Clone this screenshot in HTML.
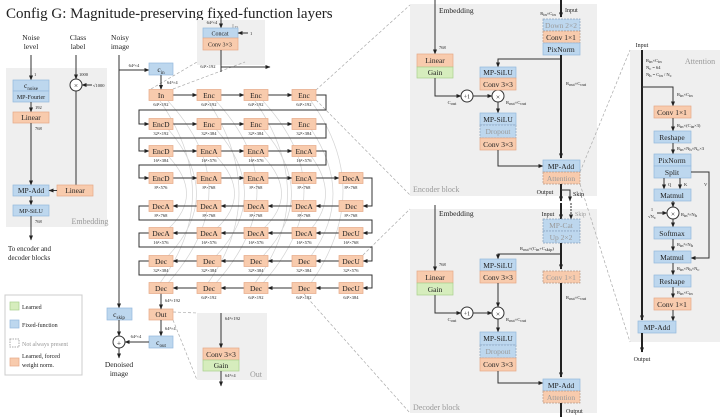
<!DOCTYPE html>
<html><head><meta charset="utf-8"><style>
body{margin:0;background:#fff}
svg{display:block}
text{font-family:"Liberation Serif",serif;fill:#222;text-anchor:middle}
.t{font-size:7.5px}
.s{font-size:4.5px}
.m{font-size:6px}
.l{text-anchor:start}
.gr{fill:#999}
.o{fill:#f8cbad;stroke:#e5a987;stroke-width:.7}
.b{fill:#bdd7ee;stroke:#94b9dd;stroke-width:.7}
.g{fill:#d6edbd;stroke:#a9d08e;stroke-width:.7}
.od{fill:#f8cbad;stroke:#b89a88;stroke-width:.7;stroke-dasharray:2 1}
.bd{fill:#bdd7ee;stroke:#8aa3bd;stroke-width:.7;stroke-dasharray:2 1}
.p{fill:#efefef}
.ln{fill:none;stroke:#333;stroke-width:1}
.th{fill:none;stroke:#222;stroke-width:2}
.dz{fill:none;stroke:#aaa;stroke-width:.7;stroke-dasharray:3 2}
.sk{fill:none;stroke:#d4d4d4;stroke-width:.7}
</style></head><body>
<svg width="720" height="417" viewBox="0 0 720 417" xmlns="http://www.w3.org/2000/svg">
<defs><marker id="a" markerWidth="5" markerHeight="5" refX="4.5" refY="2.5" orient="auto" markerUnits="userSpaceOnUse"><path d="M0,0.5 L5,2.5 L0,4.5z" fill="#222"/></marker></defs>

<text x="6" y="18" class="l" style="font-size:15px">Config G: Magnitude-preserving fixed-function layers</text>

<!-- panels -->
<rect x="6" y="68" width="101" height="159" class="p"/>
<rect x="197" y="20" width="68" height="45" class="p"/>
<rect x="197" y="313" width="70" height="67" class="p"/>
<rect x="410" y="4" width="187" height="192" class="p"/>
<rect x="410" y="209" width="187" height="204" class="p"/>
<rect x="630" y="50" width="90" height="292" class="p"/>

<!-- dashed zoom lines -->
<path class="dz" d="M151,89 L197,62 M173,89 L245,62 M316,90 L410,5 M316,100 L410,195 M363,255 L410,209 M304,294 L410,413 M580,172 L630,50 M580,184 L630,342 M173,312 L197,313 M173,320 L197,380"/>

<!-- skip arcs -->
<path class="sk" d="M168,101 Q250,190 168,283 M216,101 Q298,190 216,283 M263,101 Q345,190 263,283 M311,101 Q375,190 311,283 M168,129 Q225,195 168,256 M216,129 Q273,195 216,256 M263,129 Q320,195 263,256 M311,129 Q355,195 311,256 M168,156 Q205,195 168,229 M216,156 Q253,195 216,229 M263,156 Q300,195 263,229 M311,156 Q340,195 311,229 M160,101 Q225,195 160,283 M208,101 Q270,195 208,283 M255,101 Q320,195 255,283"/>

<!-- Embedding panel -->
<text x="31" y="40" class="t">Noise</text><text x="31" y="49" class="t">level</text>
<text x="78" y="40" class="t">Class</text><text x="78" y="49" class="t">label</text>
<text x="120" y="40" class="t">Noisy</text><text x="120" y="49" class="t">image</text>
<path class="ln" d="M31,55 V80" marker-end="url(#a)"/>
<text x="34" y="76" class="s l">1</text>
<rect x="13" y="80" width="36" height="11" class="b"/><text x="31" y="88" class="t">c<tspan font-size="5" dy="2">noise</tspan></text>
<rect x="13" y="91" width="36" height="11" class="b"/><text x="31" y="99" class="m">MP-Fourier</text>
<path class="ln" d="M31,102 V112" marker-end="url(#a)"/><text x="35" y="109" class="s l">192</text>
<rect x="13" y="112" width="36" height="11" class="o"/><text x="31" y="120" class="t">Linear</text>
<path class="ln" d="M31,123 V185" marker-end="url(#a)"/><text x="35" y="130" class="s l">768</text>
<rect x="13" y="185" width="36" height="11" class="b"/><text x="31" y="193" class="t">MP-Add</text>
<path class="ln" d="M31,196 V205" marker-end="url(#a)"/>
<rect x="13" y="205" width="36" height="11" class="b"/><text x="31" y="213" class="m">MP-SiLU</text>
<path class="ln" d="M31,216 V240" marker-end="url(#a)"/><text x="35" y="223" class="s l">768</text>
<text x="90" y="224" class="gr" style="font-size:8px">Embedding</text>
<path class="ln" d="M76,55 V79" marker-end="url(#a)"/><text x="79" y="76" class="s l">1000</text>
<circle cx="76" cy="85" r="6" fill="#fff" stroke="#333"/><text x="76" y="88" class="t">×</text>
<path class="ln" d="M92,85 H82" marker-end="url(#a)"/><text x="93" y="87" class="s l">√1000</text>
<path class="ln" d="M76,91 V185"/>
<rect x="57" y="185" width="36" height="11" class="o"/><text x="75" y="193" class="t">Linear</text>
<path class="ln" d="M57,190.5 H49" marker-end="url(#a)"/>
<text x="8" y="251" class="l" style="font-size:7px">To encoder and</text>
<text x="8" y="260" class="l" style="font-size:7px">decoder blocks</text>

<!-- Legend -->
<rect x="5" y="295" width="77" height="80" fill="#fff" stroke="#ccc"/>
<rect x="10" y="302" width="9" height="8" class="g"/><text x="22" y="309" class="m l">Learned</text>
<rect x="10" y="320" width="9" height="8" class="b"/><text x="22" y="327" class="m l">Fixed-function</text>
<rect x="10" y="339" width="9" height="8" fill="#fff" stroke="#aaa" stroke-dasharray="1.5 1"/><text x="22" y="346" class="m l gr">Not always present</text>
<rect x="10" y="358" width="9" height="8" class="o"/><text x="22" y="358" class="m l">Learned, forced</text><text x="22" y="367" class="m l">weight norm.</text>

<!-- noisy image / c_in / skip -->
<path class="ln" d="M119,55 V308" marker-end="url(#a)"/>
<path class="ln" d="M119,70 H149" marker-end="url(#a)"/><text x="134" y="67" class="s">64²×4</text>
<rect x="149" y="63" width="24" height="12" class="b"/><text x="161" y="72" class="t">c<tspan font-size="5" dy="2">in</tspan></text>
<path class="ln" d="M161,75 V89.5" marker-end="url(#a)"/><text x="167" y="84" class="s l">64²×4</text>
<rect x="107" y="308" width="25" height="12" class="b"/><text x="119" y="317" class="t">c<tspan font-size="5" dy="2">skip</tspan></text>
<path class="ln" d="M119,320 V336" marker-end="url(#a)"/>
<circle cx="119" cy="342" r="6" fill="#fff" stroke="#333"/><text x="119" y="345.5" class="t">+</text>
<path class="ln" d="M119,348 V358" marker-end="url(#a)"/>
<text x="119" y="367" class="t">Denoised</text><text x="119" y="376" class="t">image</text>
<rect x="149" y="309" width="24" height="11" class="o"/><text x="161" y="317" class="t">Out</text>
<path class="ln" d="M161,293.5 V309" marker-end="url(#a)"/><text x="165" y="302" class="s l">64²×192</text>
<path class="ln" d="M161,320 V336" marker-end="url(#a)"/><text x="165" y="330" class="s l">64²×4</text>
<rect x="149" y="336" width="24" height="12" class="b"/><text x="161" y="345" class="t">c<tspan font-size="5" dy="2">out</tspan></text>
<path class="ln" d="M149,342 H125" marker-end="url(#a)"/><text x="136" y="338" class="s">64²×4</text>

<!-- In panel -->
<text x="235" y="30" class="gr" style="font-size:8px">In</text>
<path class="ln" d="M221,14 V28" marker-end="url(#a)"/><text x="212" y="24" class="s">64²×4</text>
<rect x="203" y="28" width="35" height="10" class="b"/><text x="220" y="35.5" class="m">Concat</text>
<path class="ln" d="M248,33 H238" marker-end="url(#a)"/><text x="250" y="35" class="s l">1</text>
<rect x="203" y="38" width="35" height="12" class="o"/><text x="220" y="46.5" class="m">Conv 3×3</text>
<path class="ln" d="M221,50 V72"/><path class="ln" d="M221,67 H270" marker-end="url(#a)"/><text x="208" y="68" class="s">64²×192</text>

<!-- Out panel -->
<text x="256" y="377" class="gr" style="font-size:8px">Out</text>
<path class="ln" d="M221,313 V348" marker-end="url(#a)"/><text x="225" y="320" class="s l">64²×192</text>
<rect x="203" y="348" width="36" height="12" class="o"/><text x="221" y="357" class="t">Conv 3×3</text>
<rect x="203" y="360" width="36" height="11" class="g"/><text x="221" y="368" class="t">Gain</text>
<path class="ln" d="M221,371 V386" marker-end="url(#a)"/><text x="225" y="377" class="s l">64²×4</text>

<!-- grid connectors -->
<g class="ln" marker-end="url(#a)">
<path d="M173,95 H197"/><path d="M221,95 H244"/><path d="M268,95 H292"/>
<path d="M173,124 H197"/><path d="M221,124 H244"/><path d="M268,124 H292"/>
<path d="M173,151 H197"/><path d="M221,151 H244"/><path d="M268,151 H292"/>
<path d="M173,178 H197"/><path d="M221,178 H244"/><path d="M268,178 H292"/><path d="M316,178 H339"/>
<path d="M339,206 H316"/><path d="M292,206 H268"/><path d="M244,206 H221"/><path d="M197,206 H173"/>
<path d="M339,233 H316"/><path d="M292,233 H268"/><path d="M244,233 H221"/><path d="M197,233 H173"/>
<path d="M339,261 H316"/><path d="M292,261 H268"/><path d="M244,261 H221"/><path d="M197,261 H173"/>
<path d="M339,288 H316"/><path d="M292,288 H268"/><path d="M244,288 H221"/><path d="M197,288 H173"/>
<path d="M316,95 H326 V110 H139 V124 H149"/>
<path d="M316,124 H326 V138 H139 V151 H149"/>
<path d="M316,151 H326 V165 H139 V178 H149"/>
<path d="M363,178 H372 V206 H363"/>
<path d="M149,206 H139 V220 H372 V233 H363"/>
<path d="M149,233 H139 V247 H372 V261 H363"/>
<path d="M149,261 H139 V275 H372 V288 H363"/>
</g>

<!-- grid boxes -->
<g>
<rect x="149" y="89.5" width="24" height="11" class="o"/><text x="161" y="98" class="t">In</text><text x="161" y="106" class="s">64²×192</text>
<rect x="197" y="89.5" width="24" height="11" class="o"/><text x="209" y="98" class="t">Enc</text><text x="209" y="106" class="s">64²×192</text>
<rect x="244" y="89.5" width="24" height="11" class="o"/><text x="256" y="98" class="t">Enc</text><text x="256" y="106" class="s">64²×192</text>
<rect x="292" y="89.5" width="24" height="11" class="o"/><text x="304" y="98" class="t">Enc</text><text x="304" y="106" class="s">64²×192</text>

<rect x="149" y="118.5" width="24" height="11" class="o"/><text x="161" y="127" class="t">EncD</text><text x="161" y="135" class="s">32²×192</text>
<rect x="197" y="118.5" width="24" height="11" class="o"/><text x="209" y="127" class="t">Enc</text><text x="209" y="135" class="s">32²×384</text>
<rect x="244" y="118.5" width="24" height="11" class="o"/><text x="256" y="127" class="t">Enc</text><text x="256" y="135" class="s">32²×384</text>
<rect x="292" y="118.5" width="24" height="11" class="o"/><text x="304" y="127" class="t">Enc</text><text x="304" y="135" class="s">32²×384</text>

<rect x="149" y="145.5" width="24" height="11" class="o"/><text x="161" y="154" class="t">EncD</text><text x="161" y="162" class="s">16²×384</text>
<rect x="197" y="145.5" width="24" height="11" class="o"/><text x="209" y="154" class="t">EncA</text><text x="209" y="162" class="s">16²×576</text>
<rect x="244" y="145.5" width="24" height="11" class="o"/><text x="256" y="154" class="t">EncA</text><text x="256" y="162" class="s">16²×576</text>
<rect x="292" y="145.5" width="24" height="11" class="o"/><text x="304" y="154" class="t">EncA</text><text x="304" y="162" class="s">16²×576</text>

<rect x="149" y="172.5" width="24" height="11" class="o"/><text x="161" y="181" class="t">EncD</text><text x="161" y="189" class="s">8²×576</text>
<rect x="197" y="172.5" width="24" height="11" class="o"/><text x="209" y="181" class="t">EncA</text><text x="209" y="189" class="s">8²×768</text>
<rect x="244" y="172.5" width="24" height="11" class="o"/><text x="256" y="181" class="t">EncA</text><text x="256" y="189" class="s">8²×768</text>
<rect x="292" y="172.5" width="24" height="11" class="o"/><text x="304" y="181" class="t">EncA</text><text x="304" y="189" class="s">8²×768</text>
<rect x="339" y="172.5" width="24" height="11" class="o"/><text x="351" y="181" class="t">DecA</text><text x="351" y="189" class="s">8²×768</text>

<rect x="149" y="200.5" width="24" height="11" class="o"/><text x="161" y="209" class="t">DecA</text><text x="161" y="217" class="s">8²×768</text>
<rect x="197" y="200.5" width="24" height="11" class="o"/><text x="209" y="209" class="t">DecA</text><text x="209" y="217" class="s">8²×768</text>
<rect x="244" y="200.5" width="24" height="11" class="o"/><text x="256" y="209" class="t">DecA</text><text x="256" y="217" class="s">8²×768</text>
<rect x="292" y="200.5" width="24" height="11" class="o"/><text x="304" y="209" class="t">DecA</text><text x="304" y="217" class="s">8²×768</text>
<rect x="339" y="200.5" width="24" height="11" class="o"/><text x="351" y="209" class="t">Dec</text><text x="351" y="217" class="s">8²×768</text>

<rect x="149" y="227.5" width="24" height="11" class="o"/><text x="161" y="236" class="t">DecA</text><text x="161" y="244" class="s">16²×576</text>
<rect x="197" y="227.5" width="24" height="11" class="o"/><text x="209" y="236" class="t">DecA</text><text x="209" y="244" class="s">16²×576</text>
<rect x="244" y="227.5" width="24" height="11" class="o"/><text x="256" y="236" class="t">DecA</text><text x="256" y="244" class="s">16²×576</text>
<rect x="292" y="227.5" width="24" height="11" class="o"/><text x="304" y="236" class="t">DecA</text><text x="304" y="244" class="s">16²×576</text>
<rect x="339" y="227.5" width="24" height="11" class="o"/><text x="351" y="236" class="t">DecU</text><text x="351" y="244" class="s">16²×768</text>

<rect x="149" y="255.5" width="24" height="11" class="o"/><text x="161" y="264" class="t">Dec</text><text x="161" y="272" class="s">32²×384</text>
<rect x="197" y="255.5" width="24" height="11" class="o"/><text x="209" y="264" class="t">Dec</text><text x="209" y="272" class="s">32²×384</text>
<rect x="244" y="255.5" width="24" height="11" class="o"/><text x="256" y="264" class="t">Dec</text><text x="256" y="272" class="s">32²×384</text>
<rect x="292" y="255.5" width="24" height="11" class="o"/><text x="304" y="264" class="t">Dec</text><text x="304" y="272" class="s">32²×384</text>
<rect x="339" y="255.5" width="24" height="11" class="o"/><text x="351" y="264" class="t">DecU</text><text x="351" y="272" class="s">32²×576</text>

<rect x="149" y="282.5" width="24" height="11" class="o"/><text x="161" y="291" class="t">Dec</text>
<rect x="197" y="282.5" width="24" height="11" class="o"/><text x="209" y="291" class="t">Dec</text><text x="209" y="299" class="s">64²×192</text>
<rect x="244" y="282.5" width="24" height="11" class="o"/><text x="256" y="291" class="t">Dec</text><text x="256" y="299" class="s">64²×192</text>
<rect x="292" y="282.5" width="24" height="11" class="o"/><text x="304" y="291" class="t">Dec</text><text x="304" y="299" class="s">64²×192</text>
<rect x="339" y="282.5" width="24" height="11" class="o"/><text x="351" y="291" class="t">DecU</text><text x="351" y="299" class="s">64²×384</text>
</g>

<!-- Encoder block -->
<text x="413" y="192" class="l gr" style="font-size:8px">Encoder block</text>
<path class="ln" d="M435,0 V54" marker-end="url(#a)"/><text x="439" y="13" class="t l">Embedding</text><text x="439" y="49" class="s l">768</text>
<rect x="417" y="54" width="36" height="13" class="o"/><text x="435" y="63" class="t">Linear</text>
<rect x="417" y="67" width="36" height="11" class="g"/><text x="435" y="75" class="t">Gain</text>
<path class="ln" d="M435,78 V96 H461" marker-end="url(#a)"/><text x="452" y="104" class="s">C<tspan dy="1">out</tspan></text>
<circle cx="467" cy="96" r="6" fill="#fff" stroke="#333"/><text x="467" y="98.5" class="m">+1</text>
<path class="ln" d="M473,96 H492" marker-end="url(#a)"/>
<circle cx="498" cy="96" r="6" fill="#fff" stroke="#333"/><text x="498" y="99.5" class="t">×</text>
<text x="506" y="104" class="s l">R<tspan dy="1">out</tspan><tspan dy="-1">×C</tspan><tspan dy="1">out</tspan></text>
<path class="ln" d="M561,59 H498 V67" marker-end="url(#a)"/>
<rect x="480" y="67" width="36" height="11" class="b"/><text x="498" y="75" class="t">MP-SiLU</text>
<rect x="480" y="78" width="36" height="12" class="o"/><text x="498" y="87" class="t">Conv 3×3</text>
<path class="ln" d="M498,90 V90"/>
<path class="ln" d="M498,102 V113" marker-end="url(#a)"/>
<rect x="480" y="113" width="36" height="12" class="b"/><text x="498" y="122" class="t">MP-SiLU</text>
<rect x="480" y="125" width="36" height="13" class="bd"/><text x="498" y="134" class="t gr">Dropout</text>
<rect x="480" y="138" width="36" height="12" class="o"/><text x="498" y="147" class="t">Conv 3×3</text>
<path class="ln" d="M498,150 V166 H543" marker-end="url(#a)"/>
<path class="th" d="M561,0 V17" marker-end="url(#a)"/><text x="565" y="12" class="m l">Input</text><text x="548" y="15" class="s">R<tspan dy="1">in</tspan><tspan dy="-1">×C</tspan><tspan dy="1">in</tspan></text>
<rect x="543" y="19" width="37" height="12" class="bd"/><text x="561" y="28" class="t gr">Down 2×2</text>
<rect x="543" y="31" width="37" height="12" class="od"/><text x="561" y="40" class="t">Conv 1×1</text>
<rect x="543" y="43" width="37" height="12" class="b"/><text x="561" y="52" class="t">PixNorm</text>
<path class="th" d="M561,55 V158" marker-end="url(#a)"/><text x="566" y="85" class="s l">R<tspan dy="1">out</tspan><tspan dy="-1">×C</tspan><tspan dy="1">out</tspan></text>
<rect x="543" y="160" width="37" height="12" class="b"/><text x="561" y="169" class="t">MP-Add</text>
<rect x="543" y="172" width="37" height="12" class="od"/><text x="561" y="181" class="t gr">Attention</text>
<path class="th" d="M561,184 V201" marker-end="url(#a)"/><text x="545" y="194" class="m">Output</text>
<path class="ln" d="M561,190 H570 V201" marker-end="url(#a)"/><text x="573" y="196" class="m l">Skip</text>

<!-- Decoder block -->
<text x="413" y="410" class="l gr" style="font-size:8px">Decoder block</text>
<path class="ln" d="M435,205 V271" marker-end="url(#a)"/><text x="439" y="216" class="t l">Embedding</text><text x="439" y="266" class="s l">768</text>
<rect x="417" y="271" width="36" height="12" class="o"/><text x="435" y="280" class="t">Linear</text>
<rect x="417" y="283" width="36" height="12" class="g"/><text x="435" y="292" class="t">Gain</text>
<path class="ln" d="M435,295 V313 H461" marker-end="url(#a)"/><text x="452" y="321" class="s">C<tspan dy="1">out</tspan></text>
<circle cx="467" cy="313" r="6" fill="#fff" stroke="#333"/><text x="467" y="315.5" class="m">+1</text>
<path class="ln" d="M473,313 H492" marker-end="url(#a)"/>
<circle cx="498" cy="313" r="6" fill="#fff" stroke="#333"/><text x="498" y="316.5" class="t">×</text>
<text x="506" y="321" class="s l">R<tspan dy="1">out</tspan><tspan dy="-1">×C</tspan><tspan dy="1">out</tspan></text>
<path class="ln" d="M561,254 H498 V259" marker-end="url(#a)"/>
<rect x="480" y="259" width="36" height="12" class="b"/><text x="498" y="268" class="t">MP-SiLU</text>
<rect x="480" y="271" width="36" height="12" class="o"/><text x="498" y="280" class="t">Conv 3×3</text>
<path class="ln" d="M498,283 V307" marker-end="url(#a)"/>
<path class="ln" d="M498,319 V332" marker-end="url(#a)"/>
<rect x="480" y="332" width="36" height="13" class="b"/><text x="498" y="341" class="t">MP-SiLU</text>
<rect x="480" y="345" width="36" height="13" class="bd"/><text x="498" y="354" class="t gr">Dropout</text>
<rect x="480" y="358" width="36" height="13" class="o"/><text x="498" y="367" class="t">Conv 3×3</text>
<path class="ln" d="M498,371 V383 H543" marker-end="url(#a)"/>
<path class="th" d="M561,203 V219" marker-end="url(#a)"/><text x="548" y="216" class="m">Input</text>
<path class="ln" d="M571,203 V219" stroke-dasharray="2 1" stroke="#999" marker-end="url(#a)"/><text x="575" y="216" class="m l gr">Skip</text>
<rect x="543" y="219" width="37" height="12" class="bd"/><text x="561" y="228" class="t gr">MP-Cat</text>
<rect x="543" y="231" width="37" height="12" class="bd"/><text x="561" y="240" class="t gr">Up 2×2</text>
<text x="520" y="250" class="s l">R<tspan dy="1">out</tspan><tspan dy="-1">×(C</tspan><tspan dy="1">in</tspan><tspan dy="-1">+C</tspan><tspan dy="1">skip</tspan><tspan dy="-1">)</tspan></text>
<path class="th" d="M561,243 V269" marker-end="url(#a)"/>
<rect x="543" y="271" width="37" height="12" class="od"/><text x="561" y="280" class="t gr">Conv 1×1</text>
<path class="th" d="M561,283 V377" marker-end="url(#a)"/><text x="566" y="299" class="s l">R<tspan dy="1">out</tspan><tspan dy="-1">×C</tspan><tspan dy="1">out</tspan></text>
<rect x="543" y="379" width="37" height="12" class="b"/><text x="561" y="388" class="t">MP-Add</text>
<rect x="543" y="391" width="37" height="12" class="od"/><text x="561" y="400" class="t gr">Attention</text>
<path class="th" d="M561,403 V417"/><text x="566" y="413" class="m l">Output</text>

<!-- Attention panel -->
<text x="700" y="64" class="gr" style="font-size:8px">Attention</text>
<text x="642" y="47" class="m">Input</text>
<path class="th" d="M642,50 V320" marker-end="url(#a)"/>
<text x="646" y="62" class="s l">R<tspan dy="1">in</tspan><tspan dy="-1">×C</tspan><tspan dy="1">in</tspan></text>
<text x="646" y="69" class="s l">N<tspan dy="1">c</tspan><tspan dy="-1"> = 64</tspan></text>
<text x="646" y="76" class="s l">N<tspan dy="1">h</tspan><tspan dy="-1"> = C</tspan><tspan dy="1">in</tspan><tspan dy="-1"> / N</tspan><tspan dy="1">c</tspan></text>
<path class="ln" d="M642,87 H673 V106" marker-end="url(#a)"/><text x="677" y="96" class="s l">R<tspan dy="1">in</tspan><tspan dy="-1">×C</tspan><tspan dy="1">in</tspan></text>
<rect x="654" y="106" width="37" height="12" class="o"/><text x="672" y="115" class="t">Conv 1×1</text>
<path class="ln" d="M673,118 V131" marker-end="url(#a)"/><text x="677" y="127" class="s l">R<tspan dy="1">in</tspan><tspan dy="-1">×(C</tspan><tspan dy="1">in</tspan><tspan dy="-1">×3)</tspan></text>
<rect x="654" y="131" width="37" height="12" class="b"/><text x="672" y="140" class="t">Reshape</text>
<path class="ln" d="M673,143 V154" marker-end="url(#a)"/><text x="677" y="150" class="s l">R<tspan dy="1">in</tspan><tspan dy="-1">×N</tspan><tspan dy="1">h</tspan><tspan dy="-1">×N</tspan><tspan dy="1">c</tspan><tspan dy="-1">×3</tspan></text>
<rect x="654" y="154" width="37" height="12" class="b"/><text x="672" y="163" class="t">PixNorm</text>
<rect x="654" y="166" width="37" height="12" class="b"/><text x="672" y="175" class="t">Split</text>
<path class="ln" d="M664,178 V189" marker-end="url(#a)"/><path class="ln" d="M680,178 V189" marker-end="url(#a)"/>
<text x="668" y="186" class="s l">Q</text><text x="684" y="186" class="s l">K</text><text x="704" y="186" class="s l">V</text>
<path class="ln" d="M691,172 H709 V258 H691" marker-end="url(#a)"/>
<rect x="654" y="189" width="37" height="12" class="b"/><text x="672" y="198" class="t">Matmul</text>
<path class="ln" d="M673,201 V207" marker-end="url(#a)"/>
<circle cx="673" cy="213" r="6" fill="#fff" stroke="#333"/><text x="673" y="216.5" class="t">×</text>
<text x="652" y="211" class="s">1</text><text x="652" y="218" class="s">√N<tspan dy="1">c</tspan></text>
<path class="ln" d="M657,213 H667" marker-end="url(#a)"/>
<text x="681" y="216" class="s l">R<tspan dy="1">in</tspan><tspan dy="-1">²×N</tspan><tspan dy="1">h</tspan></text>
<path class="ln" d="M673,219 V227" marker-end="url(#a)"/>
<rect x="654" y="227" width="37" height="12" class="b"/><text x="672" y="236" class="t">Softmax</text>
<path class="ln" d="M673,239 V251" marker-end="url(#a)"/><text x="677" y="246" class="s l">R<tspan dy="1">in</tspan><tspan dy="-1">²×N</tspan><tspan dy="1">h</tspan></text>
<rect x="654" y="251" width="37" height="12" class="b"/><text x="672" y="260" class="t">Matmul</text>
<path class="ln" d="M673,263 V275" marker-end="url(#a)"/><text x="677" y="270" class="s l">R<tspan dy="1">in</tspan><tspan dy="-1">×N</tspan><tspan dy="1">h</tspan><tspan dy="-1">×N</tspan><tspan dy="1">c</tspan></text>
<rect x="654" y="275" width="37" height="12" class="b"/><text x="672" y="284" class="t">Reshape</text>
<path class="ln" d="M673,287 V298" marker-end="url(#a)"/><text x="677" y="294" class="s l">R<tspan dy="1">in</tspan><tspan dy="-1">×C</tspan><tspan dy="1">in</tspan></text>
<rect x="654" y="298" width="37" height="12" class="o"/><text x="672" y="307" class="t">Conv 1×1</text>
<path class="ln" d="M673,310 V321" marker-end="url(#a)"/>
<rect x="638" y="321" width="38" height="12" class="b"/><text x="657" y="330" class="t">MP-Add</text>
<path class="th" d="M642,333 V352" marker-end="url(#a)"/>
<text x="642" y="361" class="m">Output</text>
</svg>
</body></html>
